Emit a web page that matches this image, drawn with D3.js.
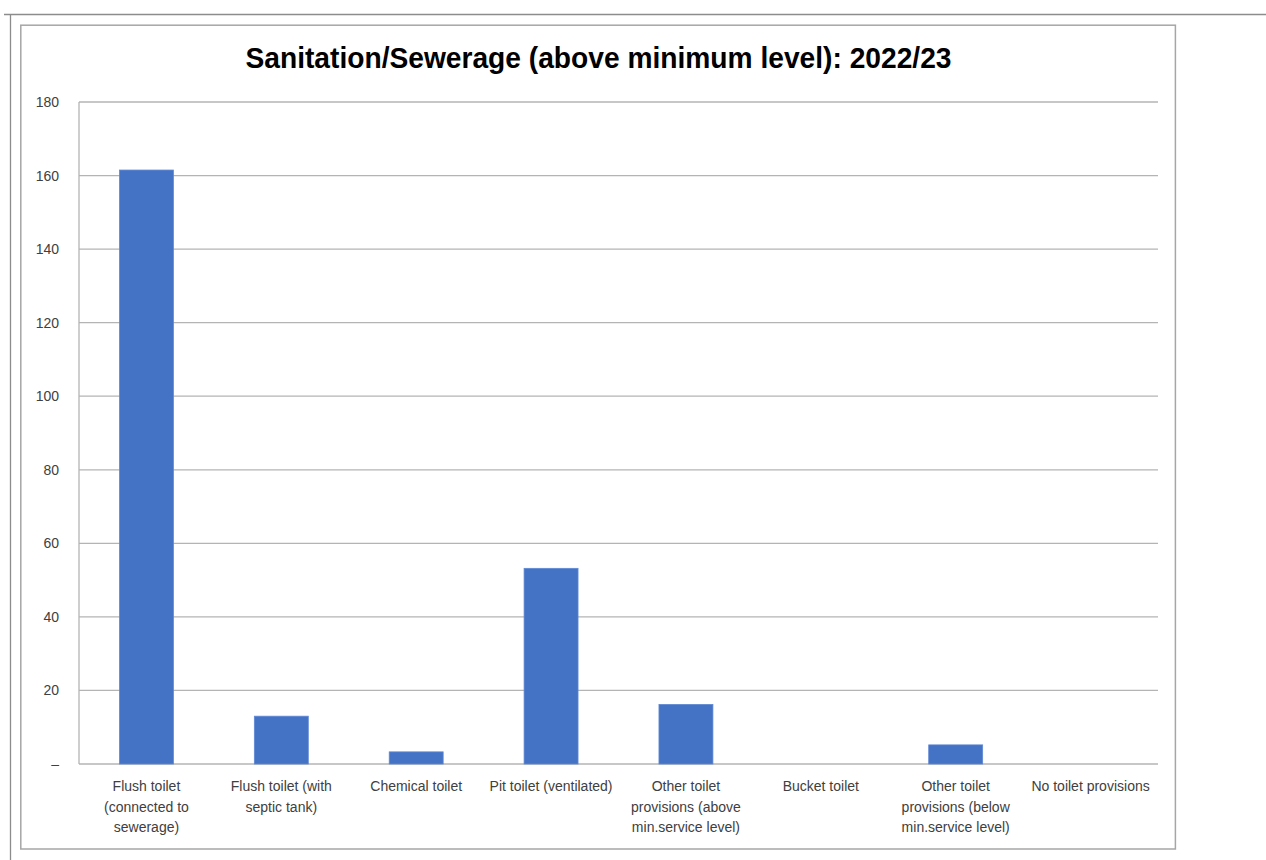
<!DOCTYPE html>
<html>
<head>
<meta charset="utf-8">
<script src="https://cdn.jsdelivr.net/npm/d3@7"></script>
<style>
  html, body { margin: 0; padding: 0; background: #ffffff; }
  svg { display: block; }
</style>
</head>
<body>
<svg id="chart" width="1266" height="860"></svg>
<script>
// Household counts by sanitation type (line breaks mark the label wrapping)
const categories = [
  "Flush toilet\n(connected to\nsewerage)",
  "Flush toilet (with\nseptic tank)",
  "Chemical toilet",
  "Pit toilet (ventilated)",
  "Other toilet\nprovisions (above\nmin.service level)",
  "Bucket toilet",
  "Other toilet\nprovisions (below\nmin.service level)",
  "No toilet provisions"
];
const values = [161.5, 13, 3.3, 53.2, 16.2, 0, 5.2, 0];
const yTicks = [0, 20, 40, 60, 80, 100, 120, 140, 160, 180];
const title = "Sanitation/Sewerage (above minimum level): 2022/23";

const svg = d3.select("#chart");
const narrow = "'Liberation Sans Narrow', 'Arial Narrow', 'Liberation Sans', Arial, sans-serif";

// page rule and chart frame
svg.append("line").attr("x1", 4).attr("x2", 1266).attr("y1", 14.5).attr("y2", 14.5)
  .attr("stroke", "#8c8c8c").attr("stroke-width", 1.3);
svg.append("line").attr("x1", 10.5).attr("x2", 10.5).attr("y1", 14).attr("y2", 860)
  .attr("stroke", "#8c8c8c").attr("stroke-width", 1.3);
svg.append("rect").attr("x", 20.8).attr("y", 25.2).attr("width", 1154.6).attr("height", 823.8)
  .attr("fill", "#ffffff").attr("stroke", "#a6a6a6").attr("stroke-width", 1.5);

const plot = { left: 79, right: 1158, top: 102, bottom: 764 };

const x = d3.scaleBand()
  .domain(categories)
  .range([plot.left, plot.right])
  .paddingInner(0.6)
  .paddingOuter(0.3);

const y = d3.scaleLinear()
  .domain([0, 180])
  .range([plot.bottom, plot.top]);

// horizontal gridlines
svg.append("g")
  .selectAll("line")
  .data(yTicks)
  .join("line")
  .attr("x1", plot.left).attr("x2", plot.right)
  .attr("y1", d => y(d)).attr("y2", d => y(d))
  .attr("stroke", "#b4b4b4").attr("stroke-width", 1.3);

// y axis line
svg.append("line")
  .attr("x1", plot.left).attr("x2", plot.left)
  .attr("y1", y(180)).attr("y2", y(0))
  .attr("stroke", "#b4b4b4").attr("stroke-width", 1.3);

// y axis labels
const yAxis = d3.axisLeft(y)
  .tickValues(yTicks)
  .tickSize(0)
  .tickPadding(20)
  .tickFormat(d => d === 0 ? "\u2013" : d3.format("d")(d));
const yg = svg.append("g").attr("transform", `translate(${plot.left},0)`).call(yAxis);
yg.select(".domain").remove();
yg.selectAll("text")
  .attr("font-family", narrow)
  .attr("font-size", 14)
  .attr("fill", "#404040");

// bars
svg.append("g")
  .selectAll("rect")
  .data(values)
  .join("rect")
  .attr("x", (d, i) => x(categories[i]))
  .attr("width", x.bandwidth())
  .attr("y", d => y(d))
  .attr("height", d => y(0) - y(d))
  .attr("fill", "#4472c4")
  .attr("stroke", d => d > 0 ? "#5f89d4" : "none")
  .attr("stroke-width", 0.8);

// category labels
const xl = svg.append("g")
  .selectAll("text")
  .data(categories)
  .join("text")
  .attr("x", d => x(d) + x.bandwidth() / 2)
  .attr("y", 791)
  .attr("text-anchor", "middle")
  .attr("font-family", narrow)
  .attr("font-size", 14)
  .attr("fill", "#404040");
xl.selectAll("tspan")
  .data(d => d.split("\n"))
  .join("tspan")
  .attr("x", function() { return this.parentNode.getAttribute("x"); })
  .attr("dy", (d, i) => i === 0 ? 0 : 20.6)
  .text(d => d);

// title
svg.append("text")
  .attr("x", 598.5)
  .attr("y", 67.5)
  .attr("text-anchor", "middle")
  .attr("font-family", narrow)
  .attr("font-weight", "bold")
  .attr("font-size", 29)
  .attr("fill", "#000000")
  .attr("textLength", 706)
  .attr("lengthAdjust", "spacingAndGlyphs")
  .text(title);
</script>
</body>
</html>
